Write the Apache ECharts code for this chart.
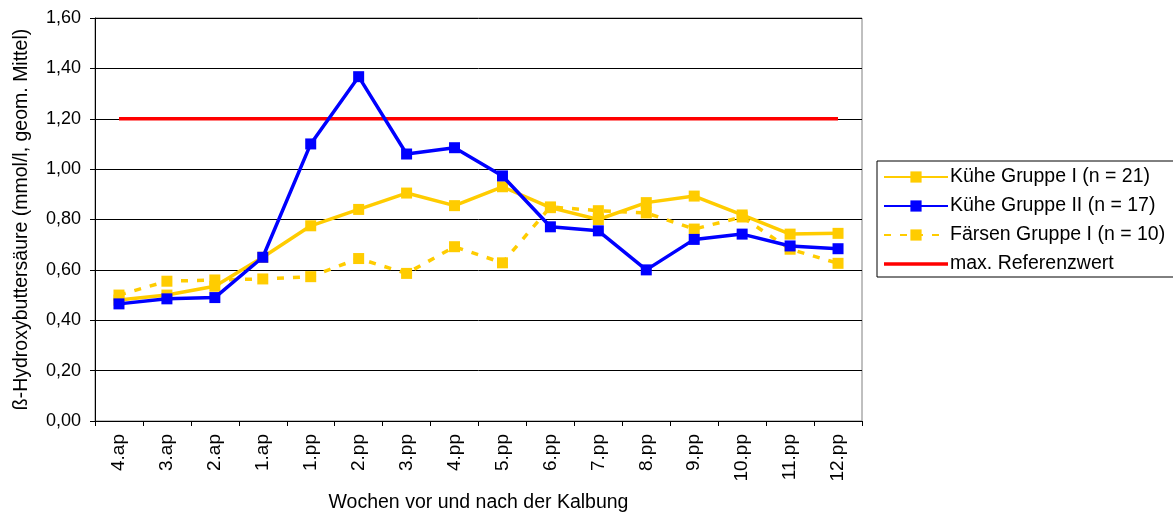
<!DOCTYPE html>
<html>
<head>
<meta charset="utf-8">
<script src="https://cdn.jsdelivr.net/npm/echarts@6/dist/echarts.min.js"></script>
<style>
  html, body { margin: 0; padding: 0; background: #fff; }
  #chart { width: 1173px; height: 514px; }
</style>
</head>
<body>
<div id="chart"></div>
<script>
// Weeks before (ap) and after (pp) calving
const weeks = ['4.ap', '3.ap', '2.ap', '1.ap', '1.pp', '2.pp', '3.pp', '4.pp',
               '5.pp', '6.pp', '7.pp', '8.pp', '9.pp', '10.pp', '11.pp', '12.pp'];

// BHB, mmol/l, geometric mean per group
const kueheGruppeI  = [0.48, 0.50, 0.535, 0.65, 0.775, 0.84, 0.905, 0.855, 0.93, 0.847, 0.80, 0.867, 0.893, 0.818, 0.742, 0.745];
const kueheGruppeII = [0.465, 0.485, 0.49, 0.65, 1.10, 1.367, 1.06, 1.085, 0.973, 0.771, 0.755, 0.60, 0.721, 0.742, 0.695, 0.684];
const faersenGruppeI = [0.50, 0.555, 0.56, 0.564, 0.573, 0.645, 0.586, 0.692, 0.628, 0.85, 0.835, 0.826, 0.762, 0.81, 0.682, 0.626];
const referenzMax = weeks.map(() => 1.20);

const yTicks = { min: 0, max: 1.6, step: 0.2 };

const FONT = '"Liberation Sans", Arial, sans-serif';
const chart = echarts.init(document.getElementById('chart'), null, { renderer: 'canvas' });

chart.setOption({
  animation: false,
  textStyle: { fontFamily: FONT, color: '#000' },
  grid: {
    left: 95, right: 311, top: 18, bottom: 93,
    containLabel: false,
    outerBoundsMode: 'none',
    show: true, borderColor: '#808080', borderWidth: 1
  },
  legend: {
    orient: 'vertical',
    left: 877, top: 161,
    width: 296,
    backgroundColor: '#fff',
    borderColor: '#000',
    borderWidth: 1,
    padding: [6, 40, 3, 6],
    itemGap: 9,
    itemWidth: 64,
    itemHeight: 14,
    textStyle: { fontFamily: FONT, fontSize: 19.5, color: '#000', padding: [0, 0, 0, -3] },
    data: [
      'Kühe Gruppe I (n = 21)',
      'Kühe Gruppe II (n = 17)',
      'Färsen Gruppe I (n = 10)',
      { name: 'max. Referenzwert', icon: 'path://M0,0 H64 V3.5 H0 Z' }
    ]
  },
  xAxis: {
    type: 'category',
    data: weeks,
    boundaryGap: true,
    name: 'Wochen vor und nach der Kalbung',
    nameLocation: 'middle',
    nameGap: 72,
    nameTextStyle: { fontFamily: FONT, fontSize: 19.5, color: '#000' },
    axisLine: { lineStyle: { color: '#000', width: 1 } },
    axisTick: { show: true, alignWithLabel: false, length: 5, lineStyle: { color: '#000' } },
    axisLabel: { rotate: 90, fontFamily: FONT, fontSize: 19, color: '#000', margin: 13, interval: 0 },
    splitLine: { show: false }
  },
  yAxis: {
    type: 'value',
    min: yTicks.min, max: yTicks.max, interval: yTicks.step,
    name: 'ß-Hydroxybuttersäure (mmol/l, geom. Mittel)',
    nameLocation: 'middle',
    nameGap: 63,
    nameRotate: 90,
    nameTextStyle: { fontFamily: FONT, fontSize: 19.5, color: '#000' },
    axisLine: { show: true, lineStyle: { color: '#000', width: 1 } },
    axisTick: { show: true, inside: false, length: 5, lineStyle: { color: '#000' } },
    axisLabel: {
      fontFamily: FONT, fontSize: 18, color: '#000', margin: 14,
      formatter: v => v.toFixed(2).replace('.', ',')
    },
    splitLine: { show: true, lineStyle: { color: '#000', width: 1 } }
  },
  series: [
    {
      name: 'Kühe Gruppe I (n = 21)',
      type: 'line',
      data: kueheGruppeI,
      symbol: 'rect', symbolSize: 11,
      itemStyle: { color: '#FFCC00' },
      lineStyle: { color: '#FFCC00', width: 3.5 },
      z: 3
    },
    {
      name: 'Färsen Gruppe I (n = 10)',
      type: 'line',
      data: faersenGruppeI,
      symbol: 'rect', symbolSize: 11,
      itemStyle: { color: '#FFCC00' },
      lineStyle: { color: '#FFCC00', width: 3.5, type: [7, 9] },
      z: 2
    },
    {
      name: 'Kühe Gruppe II (n = 17)',
      type: 'line',
      data: kueheGruppeII,
      symbol: 'rect', symbolSize: 11,
      itemStyle: { color: '#0000FF' },
      lineStyle: { color: '#0000FF', width: 3.5 },
      z: 4
    },
    {
      name: 'max. Referenzwert',
      type: 'line',
      data: referenzMax,
      symbol: 'none',
      itemStyle: { color: '#FF0000' },
      lineStyle: { color: '#FF0000', width: 3.5 },
      z: 1
    }
  ]
});
</script>
</body>
</html>
